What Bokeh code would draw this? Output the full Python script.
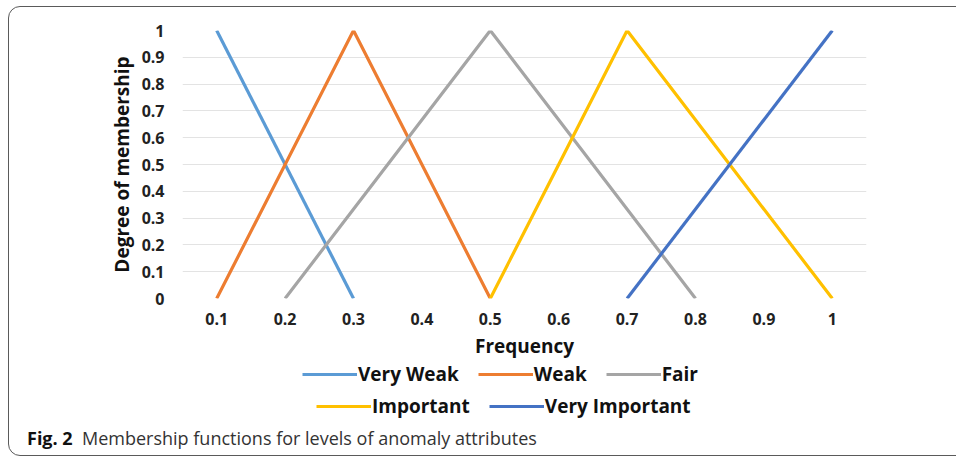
from bokeh.plotting import figure
from bokeh.layouts import column
from bokeh.models import FixedTicker, Legend, LegendItem, Div, InlineStyleSheet
from bokeh.embed import file_html
from bokeh.resources import INLINE

# ---- data ----
x_ticks = [0.1, 0.2, 0.3, 0.4, 0.5, 0.6, 0.7, 0.8, 0.9, 1.0]
x_tick_labels = ["0.1", "0.2", "0.3", "0.4", "0.5", "0.6", "0.7", "0.8", "0.9", "1"]
y_ticks = [0, 0.1, 0.2, 0.3, 0.4, 0.5, 0.6, 0.7, 0.8, 0.9, 1.0]
y_tick_labels = ["0", "0.1", "0.2", "0.3", "0.4", "0.5", "0.6", "0.7", "0.8", "0.9", "1"]

very_weak_x = [0.1, 0.3]
very_weak_y = [1, 0]
weak_x = [0.1, 0.3, 0.5]
weak_y = [0, 1, 0]
fair_x = [0.2, 0.5, 0.8]
fair_y = [0, 1, 0]
important_x = [0.5, 0.7, 1.0]
important_y = [0, 1, 0]
very_important_x = [0.7, 1.0]
very_important_y = [0, 1]

series_names = ["Very Weak", "Weak", "Fair", "Important", "Very Important"]
series_colors = ["#5B9BD5", "#ED7D31", "#A5A5A5", "#FFC000", "#4472C4"]
legend_rows = [[0, 1, 2], [3, 4]]

caption_bold = "Fig. 2"
caption_text = "Membership functions for levels of anomaly attributes"

W = 956
H_MAIN, H_LEG, H_CAP = 362, 58, 38
ML, MR, MT = 182, 90, 30
MB = H_MAIN - 298
X0, X1 = 0.05, 1.05
Y0, Y1 = 0.0, 1.0
FONT = "Open Sans"
LINE_W = 3.2

xs = [very_weak_x, weak_x, fair_x, important_x, very_important_x]
ys = [very_weak_y, weak_y, fair_y, important_y, very_important_y]

# ---- main chart ----
p = figure(width=W, height=H_MAIN, x_range=(X0, X1), y_range=(Y0, Y1),
           output_backend="svg", toolbar_location=None,
           min_border_left=ML, min_border_right=MR,
           min_border_top=MT, min_border_bottom=MB)
p.outline_line_color = None
p.background_fill_color = "white"
p.border_fill_color = "white"

for ax in (p.xaxis, p.yaxis):
    ax.axis_line_color = None
    ax.major_tick_line_color = None
    ax.minor_tick_line_color = None
    ax.major_label_text_font = FONT
    ax.major_label_text_font_style = "bold"
    ax.major_label_text_font_size = "16px"
    ax.major_label_text_color = "#222222"
    ax.axis_label_text_font = FONT
    ax.axis_label_text_font_style = "bold"
    ax.axis_label_text_font_size = "19px"
    ax.axis_label_text_color = "#111111"

p.xaxis.ticker = FixedTicker(ticks=x_ticks)
p.xaxis.major_label_overrides = {t: l for t, l in zip(x_ticks, x_tick_labels)}
p.yaxis.ticker = FixedTicker(ticks=y_ticks)
p.yaxis.major_label_overrides = {t: l for t, l in zip(y_ticks, y_tick_labels)}
p.xaxis.major_label_standoff = 8
p.yaxis.major_label_standoff = 12
p.xaxis.axis_label = "Frequency"
p.yaxis.axis_label = "Degree of membership"
p.xaxis.axis_label_standoff = 5
p.yaxis.axis_label_standoff = 4

p.xgrid.grid_line_color = None
p.ygrid.grid_line_color = "#E3E3E3"
p.ygrid.grid_line_width = 1

for x, y, c in zip(xs, ys, series_colors):
    p.line(x, y, line_color=c, line_width=LINE_W)

# ---- legend strip (own frame so the legend is not clipped) ----
# the series are drawn again here, outside the visible y-range, only to key the legend
lg = figure(width=W, height=H_LEG, x_range=(X0, X1), y_range=(10, 11),
            output_backend="svg", toolbar_location=None,
            min_border_left=ML, min_border_right=MR, min_border_top=0, min_border_bottom=0,
            x_axis_type=None, y_axis_type=None)
lg.outline_line_color = None
lg.grid.visible = False
lg.background_fill_color = "white"
lg.border_fill_color = "white"
key_renderers = [lg.line(x, y, line_color=c, line_width=LINE_W)
                 for x, y, c in zip(xs, ys, series_colors)]

row_locations = [(120, 33), (134, 1)]
for row, loc in zip(legend_rows, row_locations):
    lg.add_layout(Legend(
        items=[LegendItem(label=series_names[i], renderers=[key_renderers[i]]) for i in row],
        orientation="horizontal", location=loc,
        glyph_width=55, glyph_height=20, label_standoff=1, label_height=20,
        spacing=19, padding=0, margin=0,
        border_line_color=None, background_fill_alpha=0,
        label_text_font=FONT, label_text_font_style="bold",
        label_text_font_size="19px", label_text_color="#111111"))

# ---- caption ----
cap = Div(text=f'<b style="color:#111">{caption_bold}</b>&nbsp;&nbsp;{caption_text}',
          width=W, height=H_CAP,
          styles={"font-family": "'Open Sans'", "font-size": "18px", "color": "#333",
                  "padding-left": "22px", "padding-top": "1px", "line-height": "24px",
                  "white-space": "nowrap", "box-sizing": "border-box"})

css = """
:host { overflow: hidden; position: relative; }
:host::after {
  content: ""; position: absolute; left: 8px; top: 6px;
  width: 1200px; height: 450px; box-sizing: border-box;
  border: 1.5px solid #5a5a5a; border-radius: 12px;
  pointer-events: none; z-index: 10;
}
"""
layout = column(p, lg, cap, spacing=0, stylesheets=[InlineStyleSheet(css=css)])

open("out.html", "w").write(file_html(layout, INLINE))
